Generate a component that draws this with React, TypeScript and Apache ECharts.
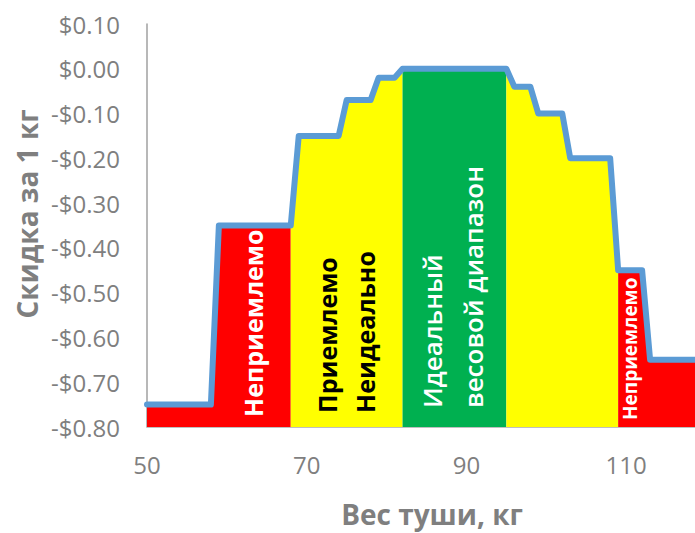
import React, { useEffect, useRef } from "react";
import * as echarts from "echarts";

// Carcass weight (kg) and discount per kg ($) – step line vertices
const weightKg = [50, 58, 59, 68, 69, 74, 75, 78, 79, 81, 82, 95, 96, 98, 99, 102, 103, 108, 109, 112, 113, 120];
const discountPerKg = [-0.75, -0.75, -0.35, -0.35, -0.15, -0.15, -0.07, -0.07, -0.02, -0.02, 0, 0, -0.04, -0.04, -0.1, -0.1, -0.2, -0.2, -0.45, -0.45, -0.65, -0.65];

// Zones (break weights) and their fills
const zoneBreaks = [50, 68, 82, 95, 109, 120];
const zoneColors = ["#ff0000", "#ffff00", "#00b050", "#ffff00", "#ff0000"];

// Axis ranges
const xRange = [50, 120];
const xStep = 20;
const yRange = [-0.8, 0.1];
const yStep = 0.1;

const xTitle = "Вес туши, кг";
const yTitle = "Скидка за 1 кг";

const FONT = '"Open Sans", "Noto Sans", sans-serif';

export default function App() {
  const ref = useRef<HTMLDivElement>(null);
  useEffect(() => {
    if (!ref.current) return;
    const chart = echarts.init(ref.current, null, { renderer: "svg" });
    const points = weightKg.map((w, i) => [w, discountPerKg[i]]);
    const zoneSeries = zoneColors.map((color, z) => ({
      type: "line",
      data: points.filter((p) => p[0] >= zoneBreaks[z] && p[0] <= zoneBreaks[z + 1]),
      symbol: "none",
      lineStyle: { width: 0, opacity: 0 },
      areaStyle: { color, opacity: 1, origin: "start" },
      z: 1,
      silent: true,
    }));
    const textEl = (x: number, y: number, text: string, fill: string, size: number, weight: string, lineHeight?: number, align = "left") => ({
      type: "text",
      x,
      y,
      rotation: Math.PI / 2,
      z: 10,
      style: {
        text,
        fill,
        fontSize: size,
        fontWeight: weight,
        fontFamily: FONT,
        align,
        verticalAlign: "middle",
        lineHeight: lineHeight ?? size,
      },
    });
    chart.setOption({
      animation: false,
      backgroundColor: "#ffffff",
      grid: { left: 147, top: 24, bottom: 106, right: 0, containLabel: false },
      xAxis: {
        type: "value",
        min: xRange[0],
        max: xRange[1],
        interval: xStep,
        splitLine: { show: false },
        axisTick: { show: false },
        axisLine: { show: true, onZero: false, lineStyle: { color: "#bfbfbf", width: 1 } },
        axisLabel: { color: "#7f7f7f", fontSize: 24, fontFamily: FONT, margin: 25, showMaxLabel: false },
      },
      yAxis: {
        type: "value",
        min: yRange[0],
        max: yRange[1],
        interval: yStep,
        splitLine: { show: false },
        axisTick: { show: false },
        axisLine: { show: true, onZero: false, lineStyle: { color: "#a0a0a0", width: 1.5 } },
        axisLabel: {
          color: "#7f7f7f",
          fontSize: 24,
          fontFamily: FONT,
          margin: 27,
          formatter: (v: number) => {
            const r = Math.round(v * 100) / 100;
            return (r < 0 ? "-" : "") + "$" + Math.abs(r).toFixed(2);
          },
        },
      },
      series: [
        ...zoneSeries,
        {
          type: "line",
          data: points,
          symbol: "none",
          lineStyle: { color: "#5b9bd5", width: 6, join: "round", cap: "round" },
          z: 5,
        },
      ],
      graphic: [
        textEl(27, 214, yTitle, "#7f7f7f", 28, "bold", undefined, "center"),
        {
          type: "text",
          x: 432,
          y: 514,
          z: 10,
          style: { text: xTitle, fill: "#7f7f7f", fontSize: 28, fontWeight: "bold", fontFamily: FONT, align: "center", verticalAlign: "middle", lineHeight: 28 },
        },
        textEl(253, 417, "Неприемлемо", "#ffffff", 25, "bold"),
        textEl(346, 413, "Приемлемо\nНеидеально", "#000000", 25, "bold", 38),
        textEl(452, 408, "Идеальный\nвесовой диапазон", "#ffffff", 26, "600", 41),
        textEl(630, 420, "Неприемлемо", "#ffffff", 19, "bold"),
      ],
    });
    return () => chart.dispose();
  }, []);
  return (
    <div style={{ position: "absolute", left: 0, top: 0, width: 695, height: 533, overflow: "hidden" }}>
      <div ref={ref} style={{ width: 706, height: 533 }} />
    </div>
  );
}
